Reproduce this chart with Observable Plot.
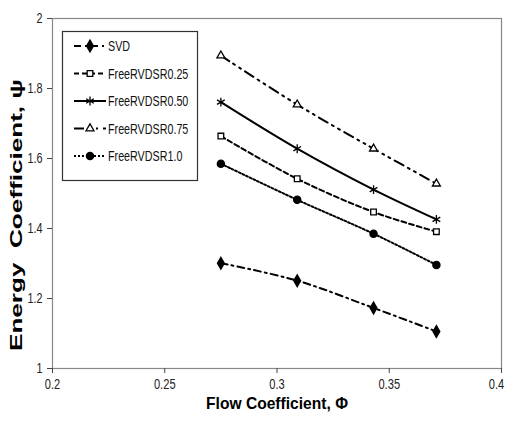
<!DOCTYPE html>
<html>
<head>
<meta charset="utf-8">
<script src="https://cdn.jsdelivr.net/npm/d3@7"></script>
<script src="https://cdn.jsdelivr.net/npm/@observablehq/plot@0.6"></script>
<style>
  html, body { margin: 0; padding: 0; background: #fff; }
  #wrap { position: relative; width: 509px; height: 423px; overflow: hidden; }
  #legend { position: absolute; left: 0; top: 0; pointer-events: none; }
</style>
</head>
<body>
<div id="wrap"></div>
<script>
// ---- data ----
const phi = [0.275, 0.309, 0.343, 0.371];
const svd = [1.301, 1.251, 1.173, 1.106];
const rvd025 = [1.664, 1.542, 1.447, 1.391];
const rvd050 = [1.761, 1.628, 1.511, 1.426];
const rvd075 = [1.894, 1.754, 1.628, 1.528];
const rvd100 = [1.585, 1.482, 1.385, 1.296];
const seriesNames = ["SVD", "FreeRVDSR0.25", "FreeRVDSR0.50", "FreeRVDSR0.75", "FreeRVDSR1.0"];
const xTicks = [0.2, 0.25, 0.3, 0.35, 0.4];
const yTicks = [1, 1.2, 1.4, 1.6, 1.8, 2];
const xTitle = "Flow Coefficient, \u03A6";
const yTitle = "Energy  Coefficient, \u03C8";

// ---- styles ----
const styles = {
  "SVD":           {dash: "7,4,2,4",      symbol: "diamond",   fill: "black", r: 3.6},
  "FreeRVDSR0.25": {dash: "5,3",          symbol: "square2",   fill: "white", r: 3.6},
  "FreeRVDSR0.50": {dash: null,           symbol: "asterisk",  fill: "none",  r: 4.2},
  "FreeRVDSR0.75": {dash: "10,5,2,5,2,5", symbol: "triangle2", fill: "white", r: 3.8},
  "FreeRVDSR1.0":  {dash: "2,2",          symbol: "circle",    fill: "black", r: 3.6}
};

const seriesValues = [svd, rvd025, rvd050, rvd075, rvd100];
const table = seriesNames.flatMap((name, i) =>
  phi.map((x, j) => ({series: name, phi: x, psi: seriesValues[i][j]})));

const marks = [];
seriesNames.forEach(name => {
  const st = styles[name];
  const d = table.filter(r => r.series === name);
  marks.push(Plot.line(d, {x: "phi", y: "psi", stroke: "black", strokeWidth: 2,
    strokeDasharray: st.dash || undefined, curve: "catmull-rom"}));
});
seriesNames.forEach(name => {
  const st = styles[name];
  const d = table.filter(r => r.series === name);
  marks.push(Plot.dot(d, {x: "phi", y: "psi", symbol: () => st.symbol, r: st.r,
    fill: st.fill, stroke: "black", strokeWidth: 1.3}));
});

const tickFont = "'Liberation Sans', Arial, sans-serif";
const chart = Plot.plot({
  width: 509, height: 423,
  marginLeft: 52, marginRight: 8, marginTop: 18, marginBottom: 55,
  style: {fontFamily: tickFont, fontSize: "15px", color: "#222", background: "white"},
  x: {domain: [0.2, 0.4]},
  y: {domain: [1, 2]},
  symbol: {type: "identity"},
  marks: [
    Plot.frame({stroke: "#888", strokeWidth: 1.2}),
    Plot.axisX({ticks: xTicks, tickFormat: d => String(d), tickSize: 5, tickPadding: 5, stroke: "#444", label: null}),
    Plot.axisY({ticks: yTicks, tickFormat: d => String(d), tickSize: 5, tickPadding: 5, stroke: "#444", label: null}),
    ...marks,
    Plot.text([xTitle], {frameAnchor: "bottom", dy: 40, text: d => d, lineAnchor: "bottom",
      fontFamily: tickFont, fontWeight: "bold", fontSize: 16.5, fill: "black"}),
    Plot.text([yTitle], {frameAnchor: "left", dx: -36, rotate: -90, text: d => d,
      fontFamily: tickFont, fontWeight: "bold", fontSize: 16, fill: "black"})
  ]
});
document.getElementById("wrap").appendChild(chart);

// squeeze/stretch a text along its baseline, keeping its anchor point
function fit(el, newLen, anchor, shift = 0) {
  const b0 = el.getBBox();
  const left0 = b0.x, right0 = b0.x + b0.width, mid0 = b0.x + b0.width / 2;
  el.style.textAnchor = "start";
  el.setAttribute("x", 0);
  el.setAttribute("textLength", newLen);
  el.setAttribute("lengthAdjust", "spacingAndGlyphs");
  const b1 = el.getBBox();
  let target;
  if (anchor === "end") target = right0 - b1.width;
  else if (anchor === "start") target = left0;
  else target = mid0 - b1.width / 2;
  target += shift;
  el.setAttribute("x", target - b1.x);
}

const xLabels = d3.select(chart).selectAll('g[aria-label="x-axis tick label"] text').nodes();
xLabels.forEach((el, i) => {
  fit(el, el.getComputedTextLength() * 0.74, "middle", i === xLabels.length - 1 ? -5 : 0);
});
d3.select(chart).selectAll('g[aria-label="y-axis tick label"] text').each(function() {
  fit(this, this.getComputedTextLength() * 0.72, "end");
});
const svgTop = chart.getBoundingClientRect().top;
d3.select(chart).selectAll("text").each(function() {
  const t = this.textContent;
  if (t === xTitle) fit(this, 142, "middle");
  if (t === yTitle) {
    this.style.textAnchor = "start";
    this.setAttribute("x", 0);
    this.setAttribute("textLength", 272);
    this.setAttribute("lengthAdjust", "spacingAndGlyphs");
    const r = this.getBoundingClientRect();
    const cy = r.top + r.height / 2 - svgTop;
    // rotated -90: increasing local x moves the text up on screen
    this.setAttribute("x", cy - 215);
  }
});

// ---- legend overlay ----
const lg = d3.select("#wrap").append("svg").attr("id", "legend")
  .attr("width", 509).attr("height", 423);
lg.append("rect").attr("x", 62.5).attr("y", 31.5).attr("width", 135).attr("height", 149)
  .attr("fill", "white").attr("stroke", "#333").attr("stroke-width", 1.2);
const symMap = {diamond: d3.symbolDiamond, square2: d3.symbolSquare2, asterisk: d3.symbolAsterisk,
  triangle2: d3.symbolTriangle2, circle: d3.symbolCircle};
seriesNames.forEach((name, i) => {
  const st = styles[name];
  const y = 46 + i * 27.5;
  const g = lg.append("g");
  g.append("line").attr("x1", 74).attr("x2", 106).attr("y1", y).attr("y2", y)
    .attr("stroke", "black").attr("stroke-width", 2)
    .attr("stroke-dasharray", st.dash || null);
  const sym = symMap[st.symbol];
  const size = Math.PI * st.r * st.r;
  g.append("path").attr("d", d3.symbol(sym, size)()).attr("transform", `translate(90,${y})`)
    .attr("fill", st.fill).attr("stroke", "black").attr("stroke-width", 1.3);
  const tx = g.append("text").attr("x", 108).attr("y", y).attr("dy", "0.36em")
    .attr("font-family", tickFont)
    .attr("font-size", 14.5).attr("fill", "#111").text(name);
  const n = tx.node();
  n.setAttribute("textLength", n.getComputedTextLength() * 0.74);
  n.setAttribute("lengthAdjust", "spacingAndGlyphs");
});
</script>
</body>
</html>
